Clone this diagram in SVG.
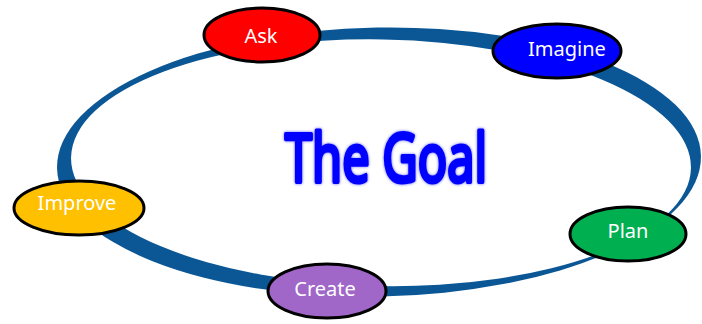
<svg xmlns="http://www.w3.org/2000/svg" width="702" height="324" viewBox="0 0 702 324">
  <defs>
    <style>
      .node ellipse { stroke: #000; stroke-width: 3; }
      .label { font-family: "Noto Sans", "DejaVu Sans", sans-serif; font-size: 20px; fill: #fff; text-anchor: middle; }
      .title { font-family: "Noto Sans", "DejaVu Sans", sans-serif; font-size: 68px; fill: #0000ff; stroke: #0000ff; stroke-width: 4; stroke-linejoin: round; stroke-linecap: round; }
    </style>
    <filter id="soft" x="-10%" y="-20%" width="120%" height="140%">
      <feGaussianBlur stdDeviation="1.6"/>
    </filter>
  </defs>

  <rect width="702" height="324" fill="#fff"/>

  <!-- cycle ring: outer ellipse with a slightly offset inner cut-out, giving the tapered band -->
  <g id="connectors">
    <ellipse cx="379" cy="162" rx="322" ry="134.5" transform="rotate(-1.1 379 162)" fill="#0b5796"/>
    <ellipse cx="381" cy="162.75" rx="310" ry="123.3" transform="rotate(1.0 381 162.75)" fill="#fff"/>
  </g>

  <!-- centre title with a soft halo -->
  <g id="title">
    <text class="title" x="285" y="182" textLength="202" lengthAdjust="spacingAndGlyphs" filter="url(#soft)" opacity="0.6">The Goal</text>
    <text class="title" x="285" y="182" textLength="202" lengthAdjust="spacingAndGlyphs">The Goal</text>
  </g>

  <g id="ask" class="node">
    <ellipse cx="262" cy="35" rx="58" ry="27" fill="#ff0000"/>
    <text class="label" x="261" y="43">Ask</text>
  </g>

  <g id="imagine" class="node">
    <ellipse cx="557" cy="51" rx="64" ry="27" fill="#0000ff"/>
    <text class="label" x="567" y="56">Imagine</text>
  </g>

  <g id="plan" class="node">
    <ellipse cx="628" cy="234" rx="58" ry="27" fill="#00b050"/>
    <text class="label" x="628" y="238">Plan</text>
  </g>

  <g id="create" class="node">
    <ellipse cx="327" cy="291" rx="59" ry="27" fill="#a066c8"/>
    <text class="label" x="325" y="296">Create</text>
  </g>

  <g id="improve" class="node">
    <ellipse cx="79" cy="208" rx="65" ry="27" fill="#ffc000"/>
    <text class="label" x="77" y="210">Improve</text>
  </g>
</svg>
